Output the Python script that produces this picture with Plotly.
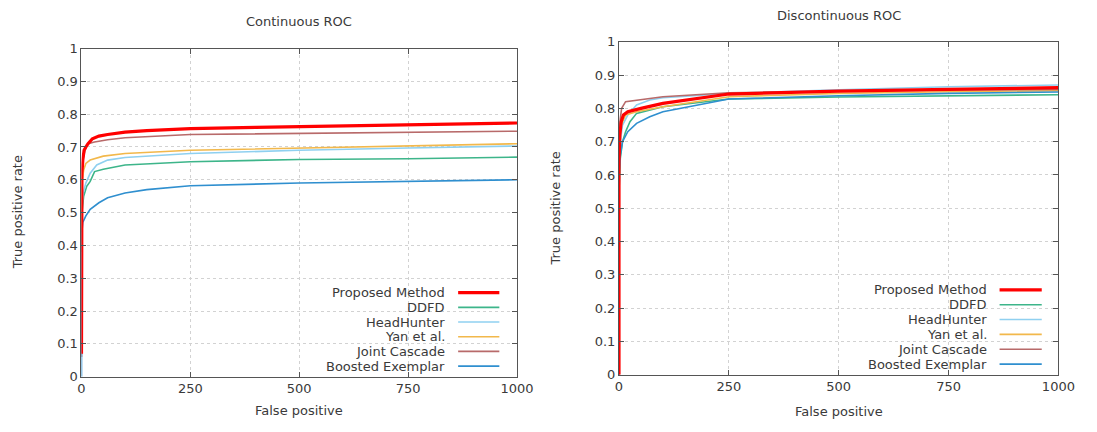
import plotly.graph_objects as go

W, H = 1097, 432

series_names = ["Proposed Method", "DDFD", "HeadHunter", "Yan et al.", "Joint Cascade", "Boosted Exemplar"]
series_colors = ["#ff0000", "#3db58a", "#8fd0f0", "#f2b84b", "#b86a6a", "#2f8fcf"]
series_widths = [3.2, 1.6, 1.6, 1.6, 1.6, 1.6]

# ---- Continuous ROC (left) ----
cont_x = {
    "Proposed Method": [0, 0, 1, 3, 6, 10, 15, 25, 40, 60, 100, 150, 250, 400, 500, 750, 1000],
    "DDFD": [0, 1, 5, 12, 20, 30, 50, 100, 250, 500, 750, 1000],
    "HeadHunter": [0, 1, 4, 10, 20, 35, 60, 100, 250, 500, 750, 1000],
    "Yan et al.": [0, 0, 2, 5, 10, 20, 50, 100, 250, 500, 750, 1000],
    "Joint Cascade": [0, 0, 3, 8, 15, 30, 60, 100, 250, 500, 750, 1000],
    "Boosted Exemplar": [0, 0, 3, 10, 20, 40, 60, 100, 150, 250, 500, 750, 1000],
}
cont_y = {
    "Proposed Method": [0.07, 0.55, 0.62, 0.66, 0.69, 0.70, 0.71, 0.725, 0.733, 0.738, 0.745, 0.750, 0.756, 0.760, 0.762, 0.768, 0.773],
    "DDFD": [0.44, 0.50, 0.55, 0.58, 0.595, 0.625, 0.632, 0.645, 0.655, 0.662, 0.664, 0.669],
    "HeadHunter": [0.45, 0.52, 0.56, 0.59, 0.62, 0.645, 0.66, 0.668, 0.68, 0.69, 0.697, 0.703],
    "Yan et al.": [0.38, 0.55, 0.60, 0.63, 0.65, 0.66, 0.672, 0.68, 0.69, 0.697, 0.705, 0.71],
    "Joint Cascade": [0.06, 0.62, 0.66, 0.69, 0.71, 0.715, 0.722, 0.728, 0.738, 0.742, 0.746, 0.748],
    "Boosted Exemplar": [0.0, 0.43, 0.47, 0.49, 0.51, 0.53, 0.545, 0.56, 0.57, 0.582, 0.59, 0.595, 0.60],
}

# ---- Discontinuous ROC (right) ----
disc_x = {
    "Proposed Method": [0, 0, 2, 5, 10, 20, 50, 100, 250, 500, 750, 1000],
    "DDFD": [0, 3, 8, 15, 25, 40, 100, 250, 500, 750, 1000],
    "HeadHunter": [0, 3, 8, 20, 40, 70, 100, 250, 500, 750, 1000],
    "Yan et al.": [0, 2, 5, 15, 40, 100, 250, 500, 750, 1000],
    "Joint Cascade": [0, 0, 3, 6, 15, 40, 100, 250, 500, 750, 1000],
    "Boosted Exemplar": [0, 0, 3, 8, 20, 40, 70, 100, 250, 500, 750, 1000],
}
disc_y = {
    "Proposed Method": [0.0, 0.64, 0.72, 0.76, 0.78, 0.79, 0.80, 0.815, 0.843, 0.852, 0.857, 0.862],
    "DDFD": [0.55, 0.65, 0.70, 0.73, 0.76, 0.785, 0.805, 0.828, 0.834, 0.838, 0.841],
    "HeadHunter": [0.60, 0.70, 0.75, 0.78, 0.81, 0.825, 0.832, 0.845, 0.856, 0.865, 0.87],
    "Yan et al.": [0.62, 0.72, 0.75, 0.78, 0.79, 0.805, 0.835, 0.845, 0.85, 0.853],
    "Joint Cascade": [0.0, 0.73, 0.77, 0.80, 0.82, 0.825, 0.835, 0.847, 0.852, 0.855, 0.857],
    "Boosted Exemplar": [0.0, 0.60, 0.66, 0.70, 0.73, 0.755, 0.775, 0.79, 0.828, 0.838, 0.845, 0.849],
}

x_ticks = [0, 250, 500, 750, 1000]
y_ticks = [0, 0.1, 0.2, 0.3, 0.4, 0.5, 0.6, 0.7, 0.8, 0.9, 1]
titles = ["Continuous ROC", "Discontinuous ROC"]
x_title = "False positive"
y_title = "True positive rate"

FONT = "DejaVu Sans"
TXT = "#3a3a3a"

fig = go.Figure()

draw_order = [1, 2, 3, 4, 5, 0]
for i in draw_order:
    n = series_names[i]
    fig.add_trace(go.Scatter(x=cont_x[n], y=cont_y[n], mode="lines", name=n,
                             line=dict(color=series_colors[i], width=series_widths[i]),
                             xaxis="x", yaxis="y", showlegend=False))
    fig.add_trace(go.Scatter(x=disc_x[n], y=disc_y[n], mode="lines", name=n,
                             line=dict(color=series_colors[i], width=series_widths[i]),
                             xaxis="x2", yaxis="y2", showlegend=False))

def px_x(p):
    return p / W

def px_y(p):
    return 1 - p / H

panels = [
    dict(x0=79, x1=523, y0=383, y1=43, title_y=15, xt_y=418, yt_x=14),
    dict(x0=627, x1=1075, y0=381, y1=36, title_y=9, xt_y=419, yt_x=562),
]

axis_common = dict(
    showline=True, linecolor="#555555", linewidth=1, mirror="ticks",
    ticks="inside", ticklen=5, tickcolor="#555555",
    showgrid=True, gridcolor="#d2d2d2", griddash="dot", gridwidth=1,
    zeroline=False, tickfont=dict(family=FONT, size=13, color=TXT),
)

layout = dict(
    width=W, height=H, autosize=False, margin=dict(l=0, r=0, t=0, b=0, pad=0),
    paper_bgcolor="white", plot_bgcolor="white",
    font=dict(family=FONT, size=13, color=TXT),
)
for k, p in enumerate(panels):
    sx = "" if k == 0 else "2"
    layout["xaxis" + sx] = dict(axis_common, domain=[px_x(p["x0"]), px_x(p["x1"])],
                                range=[0, 1000], tickvals=x_ticks,
                                anchor="y" + sx)
    layout["yaxis" + sx] = dict(axis_common, domain=[px_y(p["y0"]), px_y(p["y1"])],
                                range=[0, 1], tickvals=y_ticks,
                                anchor="x" + sx)
fig.update_layout(**layout)

annotations = []
shapes = []
for k, p in enumerate(panels):
    cx = (p["x0"] + p["x1"]) / 2
    annotations.append(dict(text=titles[k], x=px_x(cx), y=px_y(p["title_y"]),
                            xref="paper", yref="paper", showarrow=False,
                            xanchor="center", yanchor="middle",
                            font=dict(family=FONT, size=13, color=TXT)))
    annotations.append(dict(text=x_title, x=px_x(cx), y=px_y(p["xt_y"]),
                            xref="paper", yref="paper", showarrow=False,
                            xanchor="center", yanchor="middle",
                            font=dict(family=FONT, size=13, color=TXT)))
    annotations.append(dict(text=y_title, x=px_x(p["yt_x"]), y=px_y((p["y0"] + p["y1"]) / 2),
                            xref="paper", yref="paper", showarrow=False, textangle=-90,
                            xanchor="center", yanchor="middle",
                            font=dict(family=FONT, size=13, color=TXT)))

legend_cfg = [
    dict(text_right=452, line0=463, line1=505, top=296, step=15.2),
    dict(text_right=1004, line0=1015, line1=1058, top=293, step=15.4),
]
for cfg in legend_cfg:
    for i, n in enumerate(series_names):
        yy = cfg["top"] + i * cfg["step"]
        annotations.append(dict(text=n, x=px_x(cfg["text_right"]), y=px_y(yy),
                                xref="paper", yref="paper", showarrow=False,
                                xanchor="right", yanchor="middle",
                                font=dict(family=FONT, size=13, color=TXT)))
        shapes.append(dict(type="line", xref="paper", yref="paper",
                           x0=px_x(cfg["line0"]), x1=px_x(cfg["line1"]),
                           y0=px_y(yy), y1=px_y(yy),
                           line=dict(color=series_colors[i], width=series_widths[i])))

fig.update_layout(annotations=annotations, shapes=shapes)

fig.write_html(
    "out.html",
    config={"responsive": False, "displayModeBar": False},
    post_script=(
        "document.body.style.margin='0';document.body.style.overflow='hidden';"
        "var gd=document.getElementById('{plot_id}');"
        "Plotly.relayout(gd,{width:window.innerWidth,height:window.innerHeight});"
    ),
)
